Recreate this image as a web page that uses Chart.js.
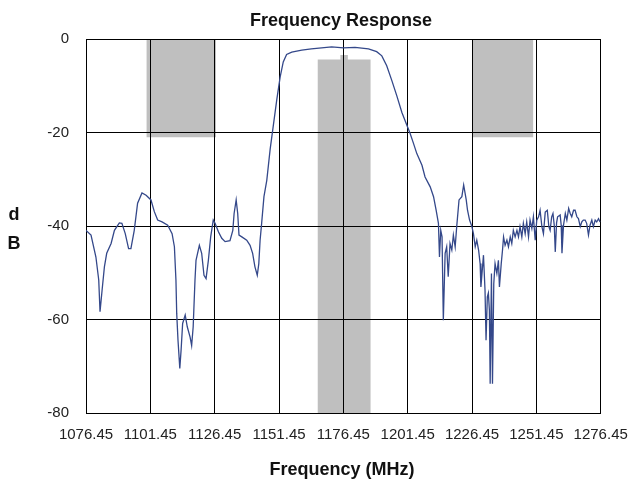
<!DOCTYPE html>
<html>
<head>
<meta charset="utf-8">
<script src="https://cdn.jsdelivr.net/npm/chart.js@4/dist/chart.umd.min.js"></script>
<style>
html,body{margin:0;padding:0;background:#fff;}
#wrap{width:629px;height:485px;}
</style>
</head>
<body>
<div id="wrap"><canvas id="c" width="629" height="485"></canvas></div>
<script>
// ---- data ----
const xTicks = [1076.45, 1101.45, 1126.45, 1151.45, 1176.45, 1201.45, 1226.45, 1251.45, 1276.45];
const yTicks = [0, -20, -40, -60, -80];

const freqMHz = [
 1076.45,1078.4,1080.3,1081.4,1081.9,1082.7,1083.6,1084.5,1086.2,1087.5,
 1089.4,1090.4,1091.7,1093.0,1093.9,1095.2,1096.5,1098.2,1099.8,1101.7,
 1103.0,1104.3,1106.0,1108.2,1109.9,1110.8,1111.4,1111.7,1112.2,1112.9,
 1113.4,1114.0,1115.0,1115.8,1116.9,1117.5,1118.1,1118.8,1119.2,1120.5,
 1121.4,1122.3,1123.1,1124.0,1124.9,1125.9,1126.6,1127.9,1129.2,1130.5,
 1132.4,1133.5,1134.0,1134.8,1135.4,1135.9,1137.0,1138.9,1140.2,1141.2,
 1142.1,1143.0,1143.6,1144.1,1144.7,1145.6,1146.7,1148.0,1150.6,1151.9,
 1153.1,1154.4,1156.4,1160.3,1164.0,1168.0,1171.9,1176.5,1181.0,1186.2,
 1189.4,1191.4,1193.3,1195.3,1197.2,1199.2,1201.1,1202.4,1203.7,1205.0,
 1207.0,1208.2,1210.2,1211.5,1212.5,
 1213.4,1213.8,1214.3,1214.8,1215.3,1216.0,1216.6,1217.2,1217.9,1218.6,
 1219.2,1219.9,1220.5,1221.4,1222.5,1223.2,1224.2,1224.7,1225.5,
 1226.4,1227.0,1227.7,1228.3,1229.0,1229.6,1229.9,1230.9,1231.5,1231.9,
 1232.4,1232.8,1233.2,1233.5,1234.0,1234.4,1234.9,1235.4,1236.1,1236.7,
 1237.1,1237.8,1238.3,1238.7,1239.3,1240.0,1240.6,1241.3,1241.9,1242.5,
 1243.2,1243.9,1244.5,1245.1,1245.8,1246.4,1247.1,1247.7,1248.4,1249.0,
 1249.7,1250.3,1251.0,1251.6,1252.3,1252.9,1253.6,1254.2,1254.9,1255.7,
 1256.3,1256.8,1257.4,1257.9,1258.4,1258.8,1259.3,1259.7,1260.7,1261.1,
 1261.4,1262.0,1262.7,1263.3,1264.0,1264.6,1265.2,1265.9,1266.5,1267.2,
 1267.8,1268.5,1269.1,1269.7,1270.4,1271.0,1271.7,1272.3,1273.0,1273.6,
 1274.3,1274.9,1275.6,1276.2
];
const responseDB = [
 -40.9,-41.9,-46.6,-51.5,-58.3,-53.7,-48.7,-45.8,-43.7,-40.9,
 -39.3,-39.4,-41.6,-44.8,-44.8,-40.9,-35.1,-32.9,-33.4,-34.4,
 -36.9,-38.7,-39.1,-39.8,-41.6,-44.4,-51.5,-58.7,-64.4,-70.4,
 -66.5,-60.8,-59.0,-61.5,-63.7,-65.5,-61.5,-51.5,-47.3,-44.1,
 -45.8,-50.5,-51.2,-47.3,-42.3,-38.7,-39.4,-41.2,-42.6,-43.3,
 -43.1,-40.9,-37.3,-34.4,-37.3,-41.9,-42.3,-43.0,-44.1,-45.8,
 -48.7,-50.5,-48.0,-43.0,-39.4,-33.7,-30.2,-23.6,-12.9,-8.1,
 -4.9,-3.3,-2.8,-2.4,-2.1,-1.9,-1.7,-1.9,-1.8,-2.1,
 -2.7,-3.6,-5.7,-8.9,-12.1,-15.7,-18.4,-20.2,-22.3,-24.5,
 -27.0,-29.5,-31.6,-33.7,-36.6,
 -39.4,-46.6,-40.9,-42.3,-60.1,-45.8,-44.4,-50.8,-43.7,-45.1,
 -41.9,-44.4,-40.1,-34.4,-33.7,-31.2,-34.4,-36.6,-38.7,
 -40.1,-41.6,-44.4,-43.0,-45.1,-48.0,-53.0,-46.2,-53.7,-64.4,
 -55.1,-54.3,-58.0,-73.7,-50.1,-73.7,-52.3,-48.0,-50.1,-47.3,
 -53.0,-48.0,-45.1,-42.3,-44.1,-43.0,-44.4,-42.3,-43.7,-40.9,
 -42.3,-40.9,-42.3,-40.1,-42.3,-39.4,-41.6,-39.1,-42.3,-38.7,
 -40.5,-38.0,-43.0,-38.7,-38.0,-36.6,-40.1,-41.6,-37.0,-36.6,
 -40.1,-40.9,-38.0,-37.3,-39.8,-45.5,-39.3,-38.0,-37.6,-39.8,
 -45.8,-39.8,-37.3,-38.7,-36.2,-37.3,-38.0,-36.6,-36.6,-38.0,
 -38.4,-40.1,-39.1,-38.7,-38.7,-39.4,-41.9,-39.8,-38.7,-40.1,
 -38.7,-39.1,-38.4,-39.1
];

// shaded mask regions
const stopBandLowX = [1099.9, 1127.0];
const stopBandHighX = [1226.45, 1250.3];
const stopBandLevel = [-21, -21];
const passBandX = [1166.4, 1175.3, 1175.3, 1178.2, 1178.2, 1187.1];
const passBandY = [-4.4, -4.4, -3.4, -3.4, -4.4, -4.4];

const zip = (xs, ys) => xs.map((x, i) => ({x: x, y: ys[i]}));

const FONT = "'Liberation Sans', Arial, sans-serif";
const shade = 'rgba(0,0,0,0.25)';

const textPlugin = {
  id: 'texts',
  afterDraw(chart) {
    const ctx = chart.ctx;
    ctx.save();
    ctx.fillStyle = '#111';
    ctx.textAlign = 'center';
    ctx.textBaseline = 'alphabetic';
    ctx.font = 'bold 18px ' + FONT;
    ctx.fillText('Frequency Response', 341, 26);
    ctx.fillText('Frequency (MHz)', 342, 475);
    ctx.fillText('d', 14, 220);
    ctx.fillText('B', 14, 249);
    ctx.restore();
  }
};

new Chart(document.getElementById('c'), {
  type: 'scatter',
  data: {
    datasets: [
      {
        data: zip(freqMHz, responseDB),
        showLine: true,
        borderColor: '#34488a',
        borderWidth: 1.3,
        pointRadius: 0,
        fill: false,
        tension: 0,
        order: 0
      },
      {
        data: zip(stopBandLowX, stopBandLevel),
        showLine: true, borderWidth: 0, borderColor: 'rgba(0,0,0,0)',
        pointRadius: 0, fill: 'end', backgroundColor: shade, order: 1
      },
      {
        data: zip(stopBandHighX, stopBandLevel),
        showLine: true, borderWidth: 0, borderColor: 'rgba(0,0,0,0)',
        pointRadius: 0, fill: 'end', backgroundColor: shade, order: 1
      },
      {
        data: zip(passBandX, passBandY),
        showLine: true, borderWidth: 0, borderColor: 'rgba(0,0,0,0)',
        pointRadius: 0, fill: 'start', backgroundColor: shade, order: 1
      }
    ]
  },
  options: {
    responsive: false,
    animation: false,
    events: [],
    layout: { padding: { top: 39, right: 28.3, left: 0, bottom: 0 } },
    plugins: { legend: { display: false }, tooltip: { enabled: false }, title: { display: false } },
    scales: {
      x: {
        type: 'linear',
        min: 1076.45,
        max: 1276.45,
        afterBuildTicks: (s) => { s.ticks = xTicks.map(v => ({value: v})); },
        afterFit: (s) => { s.height = 71.7; s.paddingLeft = 0; s.paddingRight = 0; },
        ticks: {
          callback: (v) => Number(v).toFixed(2),
          font: { family: FONT, size: 15 },
          color: '#222',
          padding: 13,
          maxRotation: 0,
          autoSkip: false
        },
        grid: { color: '#000', lineWidth: 1, drawTicks: false },
        border: { display: true, color: '#000', width: 1 }
      },
      y: {
        type: 'linear',
        min: -80,
        max: 0,
        afterBuildTicks: (s) => { s.ticks = yTicks.map(v => ({value: v})); },
        afterFit: (s) => { s.width = 86; s.paddingTop = 0; s.paddingBottom = 0; },
        ticks: {
          font: { family: FONT, size: 15 },
          color: '#222',
          padding: 17
        },
        grid: { color: '#000', lineWidth: 1, drawTicks: false },
        border: { display: true, color: '#000', width: 1 }
      }
    }
  },
  plugins: [textPlugin]
});
</script>
</body>
</html>
